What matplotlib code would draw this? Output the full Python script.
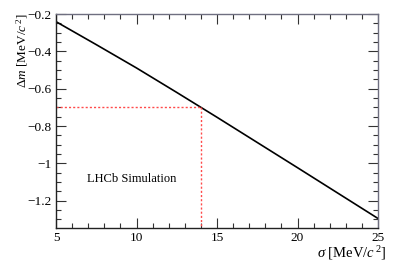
import numpy as np
import matplotlib
matplotlib.use("Agg")
import matplotlib.pyplot as plt
from matplotlib.ticker import MultipleLocator, FuncFormatter

# ─── data ────────────────────────────────────────────────────────────────────
sigma   = [5.0, 7.5, 10.0, 12.5, 15.0, 17.5, 20.0, 22.5, 25.0]       # MeV/c^2
delta_m = [-0.241, -0.364, -0.489, -0.620, -0.753, -0.888, -1.023, -1.159, -1.295]

sigma_mark = 14.0
dm_mark    = -0.70

x_ticks = [5, 10, 15, 20, 25]
y_ticks = [-0.2, -0.4, -0.6, -0.8, -1.0, -1.2]

plt.rcParams["font.family"] = ["Liberation Serif", "DejaVu Serif"]
plt.rcParams["mathtext.fontset"] = "custom"
plt.rcParams["mathtext.rm"] = "Liberation Serif"
plt.rcParams["mathtext.it"] = "Liberation Serif:italic"

fig = plt.figure(figsize=(3.99, 2.72), dpi=100)
ax = fig.add_axes([56 / 399, 44 / 272, 322 / 399, 214 / 272])

ax.plot(sigma, delta_m, color="black", linewidth=1.2)

ymin = -1.346
ax.plot([sigma[0], sigma_mark], [dm_mark, dm_mark], color="#ff4a4a",
        linestyle=(0, (1.5, 1.5)), linewidth=1.0)
ax.plot([sigma_mark, sigma_mark], [dm_mark, ymin], color="#ff4a4a",
        linestyle=(0, (1.5, 1.5)), linewidth=1.0)

ax.set_xlim(5, 25)
ax.set_ylim(ymin, -0.2)

ax.set_xticks(x_ticks)
ax.set_yticks(y_ticks)
ax.xaxis.set_minor_locator(MultipleLocator(1))
ax.yaxis.set_minor_locator(MultipleLocator(0.05))


def yfmt(v, pos):
    s = f"{v:.1f}".rstrip("0").rstrip(".")
    return s.replace("-", "\u2212")


ax.yaxis.set_major_formatter(FuncFormatter(yfmt))

ax.tick_params(which="both", direction="in", top=True, right=True,
               labelsize=9.5, color="#333333", width=0.8)
ax.tick_params(which="major", length=7, pad=3)
ax.tick_params(which="minor", length=3.5)
for side in ["left", "bottom"]:
    ax.spines[side].set_linewidth(1.0)
    ax.spines[side].set_color("#222222")
for side in ["top", "right"]:
    ax.spines[side].set_linewidth(1.0)
    ax.spines[side].set_color("#6f6f80")

ax.text((87 - 56) / 322, (228 - 179) / 214, "LHCb Simulation",
        transform=ax.transAxes, fontsize=9, ha="left", va="center")

fig.text(386 / 399, 19 / 272, r"$\sigma$ [MeV/$\mathit{c}^{\,2}$]",
         ha="right", va="center", fontsize=10.5)
fig.text(22 / 399, 1 - 13 / 272, r"$\mathit{\Delta m}$ [MeV/$\mathit{c}^{\,2}$]",
         ha="center", va="top", rotation=90, fontsize=9.5)

fig.savefig("out.png", dpi=100)
